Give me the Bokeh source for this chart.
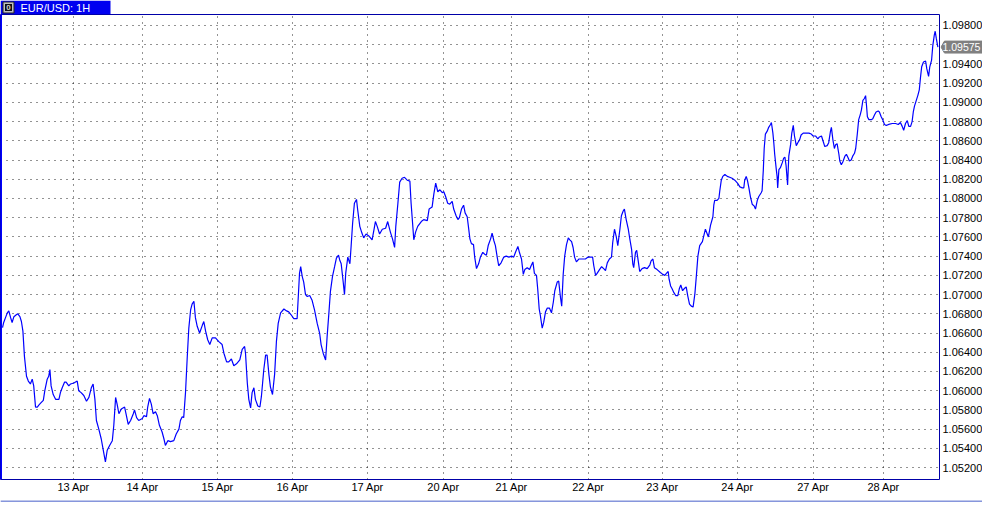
from bokeh.plotting import figure
from bokeh.models import FixedTicker, Range1d, Span
from bokeh.layouts import column, row
from bokeh.embed import file_html
from bokeh.resources import INLINE
from bokeh.core.properties import value

symbol_title = "EUR/USD: 1H"

# (hour index, close), grouped by stretch of the chart
part_1 = [(0, 1.06655), (0.4, 1.0671), (1.0, 1.0676), (1.6, 1.0681), (2.1, 1.0683), (2.7, 1.0676), (3.2, 1.0671),
          (3.8, 1.0677), (4.6, 1.0679), (5.1, 1.0680), (5.8, 1.0677), (6.3, 1.0672), (6.8, 1.0662), (7.3, 1.0636),
          (8.0, 1.0615), (8.6, 1.0610), (9.3, 1.0607), (9.9, 1.0612), (10.4, 1.0605), (11.0, 1.0583), (11.6, 1.0583),
          (12.1, 1.0585), (12.7, 1.0587), (13.6, 1.0590), (14.1, 1.0600), (14.9, 1.0612), (15.4, 1.0615), (15.8, 1.0622),
          (16.2, 1.0605), (16.9, 1.0596), (17.7, 1.0591), (18.8, 1.0591), (19.3, 1.0598), (19.9, 1.0603), (20.7, 1.0609),
          (21.2, 1.0609), (22.1, 1.0605), (22.7, 1.0607), (23.8, 1.0608), (24.9, 1.0610), (25.4, 1.0600), (26.2, 1.0598),
          (27.1, 1.0595), (28.0, 1.0589), (28.8, 1.0593), (29.6, 1.0603), (30.2, 1.0607), (30.8, 1.0591), (31.3, 1.0569),
          (32.1, 1.0560), (32.9, 1.0550), (33.6, 1.0538), (34.3, 1.0526), (34.9, 1.0538), (35.7, 1.0543), (36.6, 1.0548),
          (37.1, 1.0564), (37.7, 1.0593), (38.2, 1.0586), (38.8, 1.0576), (39.6, 1.0581), (40.7, 1.0583), (41.3, 1.0574),
          (41.9, 1.0565), (42.7, 1.0569), (43.6, 1.0576), (44.0, 1.0580), (44.7, 1.0572), (45.4, 1.0569), (46.6, 1.0571),
          (47.1, 1.0574), (48.0, 1.0573), (48.4, 1.0583), (49.0, 1.0592), (49.6, 1.0586), (50.2, 1.0576), (51.0, 1.0578),
          (51.6, 1.0574), (52.3, 1.0564), (53.2, 1.0557), (53.8, 1.0550), (54.3, 1.0543), (55.1, 1.0548), (56.0, 1.0547),
          (57.1, 1.0548), (57.9, 1.0555), (58.8, 1.0560), (59.3, 1.0569), (59.9, 1.0573), (60.4, 1.0572), (61.0, 1.0598),
          (61.6, 1.0636), (62.1, 1.0665), (62.7, 1.0684), (63.2, 1.0690), (63.8, 1.0693), (64.3, 1.0676), (64.9, 1.0667),
          (65.7, 1.0660)]

part_2 = [(66.6, 1.0668), (67.1, 1.0672), (67.7, 1.0662), (68.4, 1.0653), (69.1, 1.0648), (69.9, 1.0655), (71.0, 1.0655),
          (72.1, 1.0651), (73.2, 1.0648), (73.8, 1.0639), (74.7, 1.0630), (75.4, 1.0630), (76.3, 1.0633), (77.1, 1.0626),
          (78.0, 1.0628), (79.1, 1.0632), (79.9, 1.0643), (80.7, 1.0646), (81.0, 1.0639), (81.6, 1.0608), (82.1, 1.0591),
          (82.7, 1.0582), (83.2, 1.0598), (83.8, 1.0603), (84.3, 1.0591), (85.1, 1.0584), (85.8, 1.0583), (86.3, 1.0594),
          (87.1, 1.0622), (87.7, 1.0637), (88.2, 1.0637), (88.8, 1.0617), (89.3, 1.0604), (90.0, 1.0596), (90.7, 1.0617),
          (91.3, 1.0651), (91.9, 1.0670), (92.7, 1.0681), (93.8, 1.0685), (94.7, 1.0683), (95.4, 1.0682), (96.2, 1.0679),
          (97.1, 1.0675), (98.2, 1.0675), (98.6, 1.0698), (99.0, 1.0722), (99.4, 1.0729), (99.9, 1.0719), (100.4, 1.0713),
          (101.0, 1.0700), (101.6, 1.0698), (102.4, 1.0699), (103.2, 1.0694), (104.0, 1.0684), (104.9, 1.0670),
          (105.7, 1.0660), (106.2, 1.0648), (106.9, 1.0639), (107.7, 1.0632), (108.2, 1.0656), (108.8, 1.0681),
          (109.3, 1.0703), (110.0, 1.0719), (110.7, 1.0729), (111.3, 1.0738), (112.0, 1.0741), (112.4, 1.0736),
          (112.9, 1.0732), (113.6, 1.0712), (114.0, 1.0700), (114.4, 1.0722), (115.1, 1.0739), (115.8, 1.0732),
          (116.2, 1.0750), (116.7, 1.0774), (117.3, 1.0795), (118.0, 1.0799), (118.4, 1.0788), (119.1, 1.0771),
          (119.8, 1.0764), (120.4, 1.0759), (121.2, 1.0763), (122.1, 1.0761), (123.2, 1.0757), (123.8, 1.0767),
          (124.3, 1.0776), (124.9, 1.0771), (125.7, 1.0763), (126.6, 1.0768), (127.7, 1.0769), (128.4, 1.0776),
          (129.3, 1.0765), (130.0, 1.0758), (130.7, 1.0749), (131.1, 1.0771), (131.8, 1.0795), (132.4, 1.0817),
          (133.2, 1.0821), (134.0, 1.0822), (134.9, 1.0819), (135.8, 1.0818), (136.2, 1.0795), (136.7, 1.0774),
          (137.1, 1.0757), (137.7, 1.0765), (138.4, 1.0771), (139.6, 1.0776), (140.4, 1.0778), (141.6, 1.0777),
          (142.2, 1.0789), (143.2, 1.0791), (143.8, 1.0805), (144.4, 1.0816), (145.1, 1.0807), (145.8, 1.0809),
          (146.6, 1.0806), (147.1, 1.0807), (147.7, 1.0802), (148.4, 1.0795), (149.1, 1.0794)]

part_3 = [(149.9, 1.0797), (150.4, 1.0789), (151.2, 1.0782), (151.8, 1.0778), (152.3, 1.0780), (153.0, 1.0789),
          (153.7, 1.0793), (154.2, 1.0785), (154.9, 1.0781), (155.3, 1.0771), (155.8, 1.0758), (156.3, 1.0753),
          (157.0, 1.0752), (157.4, 1.0739), (158.0, 1.0727), (158.7, 1.0732), (159.3, 1.0739), (160.1, 1.0744),
          (160.7, 1.0742), (161.3, 1.0741), (161.9, 1.0751), (162.7, 1.0758), (163.2, 1.0764), (163.8, 1.0756),
          (164.3, 1.0751), (164.9, 1.0739), (165.4, 1.0730), (166.2, 1.0733), (167.1, 1.0739), (167.9, 1.0740),
          (168.8, 1.0739), (169.7, 1.0740), (170.4, 1.0739), (171.0, 1.0744), (171.8, 1.0750), (172.3, 1.0744),
          (173.0, 1.0737), (173.6, 1.0721), (174.1, 1.0726), (174.9, 1.0728), (175.7, 1.0726), (176.2, 1.0730),
          (176.8, 1.0734), (177.3, 1.0722), (178.0, 1.0720), (178.4, 1.0706), (178.9, 1.0685), (179.3, 1.0678),
          (179.9, 1.0665), (180.4, 1.0671), (181.0, 1.0682), (181.6, 1.0686), (182.3, 1.0686), (183.0, 1.0681),
          (183.6, 1.0692), (184.1, 1.0704), (184.9, 1.0713), (185.4, 1.0714), (186.0, 1.0697), (186.4, 1.0688),
          (186.9, 1.0721), (187.4, 1.0740), (188.0, 1.0752), (188.6, 1.0759), (189.1, 1.0757), (189.7, 1.0755),
          (190.2, 1.0749), (190.7, 1.0739), (191.3, 1.0734), (192.1, 1.0737), (193.2, 1.0737), (194.3, 1.0737),
          (195.2, 1.0739), (196.0, 1.0739), (196.7, 1.0739), (197.1, 1.0730), (197.7, 1.0720), (198.2, 1.0722),
          (199.0, 1.0726), (199.7, 1.0729), (200.4, 1.0727), (201.0, 1.0725), (201.6, 1.0733), (202.3, 1.0737),
          (203.0, 1.0739), (203.4, 1.0754), (204.0, 1.0768), (204.6, 1.0760), (205.1, 1.0751), (205.8, 1.0768),
          (206.3, 1.0782), (206.9, 1.0787), (207.3, 1.0789), (207.9, 1.0778), (208.6, 1.0768), (209.1, 1.0758),
          (209.7, 1.0747), (210.1, 1.0732), (210.4, 1.0728), (211.0, 1.0744), (211.4, 1.0746), (212.0, 1.0733),
          (212.4, 1.0724), (213.2, 1.0727), (214.0, 1.0728), (214.9, 1.0727), (215.8, 1.0731), (216.2, 1.0735),
          (216.8, 1.0737), (217.3, 1.0728), (218.2, 1.0726), (219.3, 1.0723), (220.1, 1.0721), (220.8, 1.0720),
          (221.3, 1.0722), (221.9, 1.0724), (222.2, 1.0716), (222.7, 1.0709), (223.2, 1.0706), (223.8, 1.0702),
          (224.4, 1.0699), (225.1, 1.0699), (225.6, 1.0706), (226.1, 1.0710), (226.7, 1.0704), (227.2, 1.0706),
          (227.9, 1.0708), (228.4, 1.0699), (229.0, 1.0690), (229.6, 1.0688), (230.2, 1.0687), (230.8, 1.0701),
          (231.3, 1.0720), (231.8, 1.0740), (232.4, 1.0751), (233.3, 1.0755), (234.3, 1.0768), (235.3, 1.0760),
          (236.0, 1.0772)]

part_4 = [(236.8, 1.0781), (237.1, 1.0793), (237.4, 1.0798), (238.2, 1.0798), (238.8, 1.0800), (239.1, 1.0808),
          (239.6, 1.0819), (240.1, 1.0823), (240.8, 1.0825), (241.6, 1.0823), (242.4, 1.0822), (243.2, 1.0821),
          (244.1, 1.0819), (245.0, 1.0816), (245.8, 1.0812), (246.6, 1.0811), (247.1, 1.0811), (247.4, 1.0819),
          (247.9, 1.0823), (248.3, 1.0819), (248.8, 1.0811), (249.3, 1.0802), (249.9, 1.0794), (250.6, 1.0792),
          (251.0, 1.0789), (251.6, 1.0798), (252.1, 1.0802), (252.9, 1.0806), (253.2, 1.0808), (253.6, 1.0829),
          (253.9, 1.0852), (254.3, 1.0867), (254.9, 1.0870), (255.4, 1.0874), (256.0, 1.0877), (256.3, 1.0879),
          (256.8, 1.0868), (257.1, 1.0858), (257.4, 1.0846), (257.9, 1.0831), (258.2, 1.0823), (258.4, 1.0811),
          (258.8, 1.0830), (259.3, 1.0832), (259.9, 1.0837), (260.4, 1.0842), (260.8, 1.0843), (261.2, 1.0834),
          (261.7, 1.0814), (262.1, 1.0844), (262.7, 1.0856), (263.1, 1.0868), (263.6, 1.0876), (264.0, 1.0865),
          (264.6, 1.0855), (265.1, 1.0858), (265.7, 1.0861), (266.2, 1.0866), (266.9, 1.0868), (267.7, 1.0868),
          (268.8, 1.0868), (269.6, 1.0867), (270.2, 1.0865), (271.0, 1.0865), (271.8, 1.0862), (272.3, 1.0864),
          (273.0, 1.0865), (273.6, 1.0859), (274.1, 1.0854), (274.9, 1.0855), (275.4, 1.0858), (276.0, 1.0870),
          (276.3, 1.0874), (276.8, 1.0861), (277.3, 1.0852), (277.7, 1.0856), (278.2, 1.0857), (278.8, 1.0846),
          (279.1, 1.0839), (279.6, 1.0835), (280.1, 1.0838), (280.8, 1.0844), (281.3, 1.0846), (281.9, 1.0842),
          (282.3, 1.0839), (282.9, 1.0840), (283.4, 1.0844), (284.0, 1.0847), (284.4, 1.0852), (284.9, 1.0866),
          (285.4, 1.0882), (285.9, 1.0887), (286.3, 1.0892), (286.8, 1.0902), (287.3, 1.0904), (287.7, 1.0907),
          (288.0, 1.0897), (288.3, 1.0885), (288.8, 1.0882), (289.6, 1.0882), (290.1, 1.0883), (290.7, 1.0887),
          (291.2, 1.0890), (291.9, 1.0891), (292.3, 1.0890), (292.9, 1.0885), (293.4, 1.0882), (294.0, 1.0877),
          (294.6, 1.0876), (295.4, 1.0877), (296.6, 1.0878), (297.7, 1.0878), (298.6, 1.0877), (299.3, 1.0879),
          (299.9, 1.0875), (300.4, 1.0871), (301.0, 1.0878), (301.6, 1.0881), (302.1, 1.0875), (302.7, 1.0875),
          (303.2, 1.0880), (303.6, 1.0890), (304.0, 1.0896), (304.6, 1.0902), (305.1, 1.0907), (305.6, 1.0913),
          (306.0, 1.0926), (306.4, 1.0937), (307.0, 1.0942), (307.7, 1.0943), (308.1, 1.0935), (308.7, 1.0927),
          (309.1, 1.0937), (309.7, 1.0944), (310.1, 1.0959), (310.6, 1.0970), (310.9, 1.0974), (311.3, 1.0966),
          (311.8, 1.09575)]

day_ticks = [23.7, 46.7, 71.7, 96.7, 121.7, 147.0, 169.7, 195.3, 220.0, 245.0, 270.3, 293.7]
day_labels = ["13 Apr", "14 Apr", "15 Apr", "16 Apr", "17 Apr", "20 Apr",
              "21 Apr", "22 Apr", "23 Apr", "24 Apr", "27 Apr", "28 Apr"]
price_ticks = [1.052, 1.054, 1.056, 1.058, 1.060, 1.062, 1.064, 1.066, 1.068, 1.070, 1.072, 1.074,
               1.076, 1.078, 1.080, 1.082, 1.084, 1.086, 1.088, 1.090, 1.092, 1.094, 1.096, 1.098]

points = part_1 + part_2 + part_3 + part_4
hours = [a for a, b in points]
closes = [b for a, b in points]

W = 982
SIDE_W = 42
MAIN_W = W - SIDE_W
FONT = "Liberation Sans"
X_START, X_END = -0.67, 312.67
Y_START, Y_END = 1.05076, 1.09914
FRAME_BLUE = "#0000a8"

# ---- header (tab) ----
h = figure(width=W, height=14, x_range=Range1d(0, W), y_range=Range1d(0, 14),
           x_axis_location=None, y_axis_location=None, toolbar_location=None,
           output_backend="svg", min_border=0)
h.grid.visible = False
h.outline_line_color = None
h.background_fill_color = "white"
h.border_fill_color = "white"
h.quad(left=[0], right=[110], bottom=[0], top=[14], fill_color="#0000f0", line_color=None)
h.quad(left=[2.5], right=[13.5], bottom=[1.5], top=[12.5], fill_color="#c0c0c0", line_color="#202020")
h.quad(left=[4.5], right=[11.5], bottom=[3.5], top=[10.5], fill_color="#101010", line_color=None)
h.text(x=[8], y=[7], text=["0"], text_color="#d0d0d0", text_font=value(FONT), text_font_size="8px",
       text_font_style="bold", text_align="center", text_baseline="middle")
h.text(x=[20], y=[7], text=[symbol_title], text_color="white", text_font=value(FONT),
       text_font_size="11px", text_align="left", text_baseline="middle")

# ---- main chart ----
p = figure(width=MAIN_W, height=481, x_range=Range1d(X_START, X_END), y_range=Range1d(Y_START, Y_END),
           y_axis_location="right", toolbar_location=None, output_backend="svg",
           min_border_left=0, min_border_right=0, min_border_top=0, min_border_bottom=14)
p.background_fill_color = "white"
p.border_fill_color = "white"
p.outline_line_color = FRAME_BLUE
p.outline_line_width = 1

p.line(hours, closes, line_color="#0000ff", line_width=1.2)
p.add_layout(Span(location=X_START, dimension="height", line_color="#0000ff", line_width=3))

p.xaxis.ticker = FixedTicker(ticks=day_ticks)
p.xaxis.major_label_overrides = {t: lab for t, lab in zip(day_ticks, day_labels)}
p.xaxis.axis_line_color = None
p.xaxis.major_tick_line_color = None
p.xaxis.minor_tick_line_color = None
p.xaxis.major_tick_out = 0
p.xaxis.major_tick_in = 0
p.xaxis.major_label_text_font = FONT
p.xaxis.major_label_text_font_size = "11px"
p.xaxis.major_label_text_color = "black"
p.xaxis.major_label_standoff = 1
p.yaxis.ticker = FixedTicker(ticks=price_ticks)
p.yaxis.visible = False

p.grid.grid_line_color = "#000000"
p.grid.grid_line_dash = "1 5"
p.grid.grid_line_width = 1
p.grid.grid_line_alpha = 0.85

# ---- price scale (right) ----
s = figure(width=SIDE_W, height=481, x_range=Range1d(0, SIDE_W), y_range=p.y_range,
           x_axis_location=None, y_axis_location=None, toolbar_location=None,
           output_backend="svg", min_border_left=0, min_border_right=0, min_border_top=0,
           min_border_bottom=14)
s.grid.visible = False
s.outline_line_color = None
s.background_fill_color = "white"
s.border_fill_color = "white"
s.text(x=[2] * len(price_ticks), y=price_ticks, text=[f"{v:.5f}" for v in price_ticks],
       text_color="black", text_font=value(FONT), text_font_size="11px",
       text_align="left", text_baseline="middle")
last_price = closes[-1]
half = 6 / 9652.0
s.patch(x=[0.5, 4, SIDE_W, SIDE_W, 4], y=[last_price, last_price + half, last_price + half,
                                           last_price - half, last_price - half],
        fill_color="#808080", line_color="#808080")
s.text(x=[2], y=[last_price], text=[f"{last_price:.5f}"], text_color="white", text_font=value(FONT),
       text_font_size="10.5px", text_align="left", text_baseline="middle")

# ---- footer (scrollbar) ----
f = figure(width=W, height=7, x_range=Range1d(0, W), y_range=Range1d(0, 7),
           x_axis_location=None, y_axis_location=None, toolbar_location=None,
           output_backend="svg", min_border=0)
f.grid.visible = False
f.outline_line_color = None
f.background_fill_color = "#f0f0f0"
f.border_fill_color = "#f0f0f0"
f.quad(left=[0], right=[W], bottom=[6], top=[7], fill_color="#1c3cc8", line_color=None)
f.quad(left=[10.5], right=[160.5], bottom=[-6], top=[4.5], fill_color="white", line_color="black")
f.quad(left=[28], right=[159], bottom=[-6], top=[2.5], fill_color="#c0c0c0", line_color="black")

layout = column(h, row(p, s, spacing=0), f, spacing=0)
open("out.html", "w").write(file_html(layout, INLINE))
